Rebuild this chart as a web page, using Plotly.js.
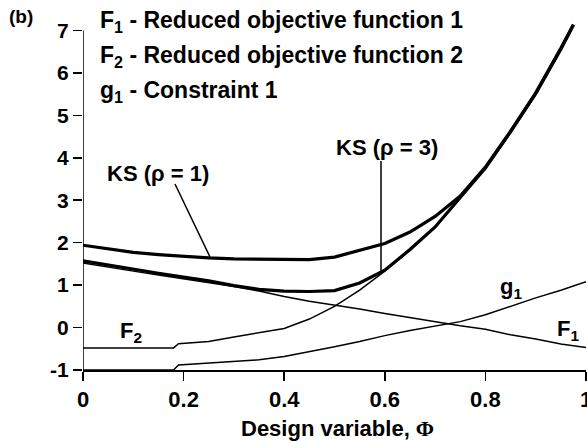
<!DOCTYPE html>
<html>
<head>
<meta charset="utf-8">
<script src="https://cdn.plot.ly/plotly-3.0.1.min.js"></script>
<style>
html,body{margin:0;padding:0;background:#fff;}
#chart{width:587px;height:441px;}
</style>
</head>
<body>
<div id="chart"></div>
<script>
// ---- data ----
var f1X = [0, 0.05, 0.1, 0.15, 0.2, 0.25, 0.3, 0.35, 0.4, 0.45, 0.5, 0.55, 0.6, 0.65, 0.7, 0.75, 0.8, 0.85, 0.9, 0.95, 1.0];
var f1Y = [1.52, 1.42, 1.33, 1.24, 1.15, 1.06, 0.97, 0.86, 0.73, 0.62, 0.53, 0.44, 0.33, 0.23, 0.13, 0.04, -0.04, -0.17, -0.27, -0.39, -0.47];

var f2X = [0, 0.18, 0.19, 0.25, 0.3, 0.35, 0.4, 0.45, 0.5, 0.55, 0.6, 0.65, 0.7, 0.75, 0.8, 0.85, 0.9, 0.95, 0.975];
var f2Y = [-0.48, -0.48, -0.38, -0.33, -0.22, -0.12, -0.02, 0.2, 0.5, 0.88, 1.33, 1.82, 2.35, 3.05, 3.75, 4.6, 5.5, 6.55, 7.12];

var g1X = [0, 0.18, 0.19, 0.25, 0.3, 0.35, 0.4, 0.45, 0.5, 0.55, 0.6, 0.65, 0.7, 0.75, 0.8, 0.85, 0.9, 0.95, 1.0];
var g1Y = [-1, -1, -0.88, -0.84, -0.8, -0.76, -0.68, -0.57, -0.45, -0.33, -0.19, -0.07, 0.03, 0.14, 0.3, 0.5, 0.7, 0.88, 1.08];

var ks3X = [0, 0.05, 0.1, 0.15, 0.2, 0.25, 0.3, 0.35, 0.4, 0.45, 0.5, 0.55, 0.6, 0.65, 0.7, 0.75, 0.8, 0.85, 0.9, 0.95, 0.975];
var ks3Y = [1.57, 1.47, 1.38, 1.28, 1.19, 1.1, 0.99, 0.9, 0.86, 0.85, 0.87, 1.05, 1.35, 1.84, 2.37, 3.06, 3.76, 4.61, 5.51, 6.56, 7.13];

var ks1X = [0, 0.05, 0.1, 0.15, 0.2, 0.25, 0.3, 0.35, 0.4, 0.45, 0.5, 0.55, 0.6, 0.65, 0.7, 0.75, 0.8, 0.85, 0.9, 0.95, 0.975];
var ks1Y = [1.94, 1.85, 1.77, 1.72, 1.68, 1.64, 1.62, 1.61, 1.6, 1.6, 1.66, 1.82, 1.98, 2.25, 2.62, 3.1, 3.78, 4.63, 5.53, 6.58, 7.14];

var xTickVals = [0, 0.2, 0.4, 0.6, 0.8, 1];
var xTickText = ['0', '0.2', '0.4', '0.6', '0.8', '1'];
var yTickVals = [-1, 0, 1, 2, 3, 4, 5, 6, 7];
var yTickText = ['-1', '0', '1', '2', '3', '4', '5', '6', '7'];

var legendLines = [
  'F<sub>1</sub> - Reduced objective function 1',
  'F<sub>2</sub> - Reduced objective function 2',
  'g<sub>1</sub> - Constraint 1'
];
var xTitle = 'Design variable, <span style="font-family:\'Liberation Serif\',serif">\u03A6</span>';

// ---- layout helpers (pixel -> paper coords for label placement) ----
var ML = 83, MT = 22, PW = 503, PH = 348;
function X(px){ return (px - ML) / PW; }
function Y(py){ return (MT + PH - py) / PH; }

var FONT = 'Liberation Sans, Arial, Helvetica, sans-serif';
function thin(x, y){ return {x:x, y:y, type:'scatter', mode:'lines', line:{color:'#000', width:1.5}, hoverinfo:'skip', showlegend:false}; }
function thick(x, y){ return {x:x, y:y, type:'scatter', mode:'lines', line:{color:'#000', width:3.2}, hoverinfo:'skip', showlegend:false}; }

var traces = [thin(f1X, f1Y), thin(f2X, f2Y), thin(g1X, g1Y), thick(ks3X, ks3Y), thick(ks1X, ks1Y)];

function ann(text, px, py, xanchor, size){
  return {text:text, x:X(px), y:Y(py), xref:'paper', yref:'paper', xanchor:xanchor||'center', yanchor:'middle',
          showarrow:false, font:{family:FONT, size:size||22, color:'#000', weight:'bold'}};
}

var annotations = [
  ann('(b)', 21, 17, 'center', 19),
  ann(legendLines[0], 98, 21, 'left', 23),
  ann(legendLines[1], 98, 56, 'left', 23),
  ann(legendLines[2], 98, 91, 'left', 23),
  ann('KS (\u03C1 = 1)', 158, 173, 'center'),
  ann('KS (\u03C1 = 3)', 387, 147, 'center'),
  ann('F<sub>2</sub>', 131, 332, 'center'),
  ann('F<sub>1</sub>', 568, 330, 'center'),
  ann('g<sub>1</sub>', 511, 288, 'center'),
  ann(xTitle, 337, 428, 'center', 22)
];

var shapes = [
  {type:'line', xref:'x', yref:'y', x0:0, x1:0, y0:-1, y1:7, line:{color:'#000', width:1.5}},
  {type:'line', xref:'paper', yref:'paper', x0:X(175), y0:Y(184), x1:X(210), y1:Y(257), line:{color:'#000', width:1.5}},
  {type:'line', xref:'paper', yref:'paper', x0:X(381), y0:Y(161), x1:X(381), y1:Y(272), line:{color:'#000', width:1.5}}
];

var layout = {
  width:587, height:441,
  margin:{l:ML, r:1, t:MT, b:71, pad:0},
  paper_bgcolor:'#fff', plot_bgcolor:'#fff',
  showlegend:false,
  font:{family:FONT, color:'#000'},
  xaxis:{range:[0,1], tickvals:xTickVals, ticktext:xTickText, ticks:'outside', ticklen:9, tickwidth:1.5, tickcolor:'#000',
         showline:true, linecolor:'#000', linewidth:1.5, showgrid:false, zeroline:false, ticklabeloverflow:'allow',
         tickfont:{family:FONT, size:22, color:'#000', weight:'bold'}},
  yaxis:{range:[-1,7.2], tickvals:yTickVals, ticktext:yTickText, ticks:'outside', ticklen:9, tickwidth:1.5, tickcolor:'#000',
         showline:false, showgrid:false, zeroline:false,
         tickfont:{family:FONT, size:21, color:'#000', weight:'bold'}},
  annotations:annotations,
  shapes:shapes
};

Plotly.newPlot('chart', traces, layout, {staticPlot:true, displayModeBar:false});
</script>
</body>
</html>
